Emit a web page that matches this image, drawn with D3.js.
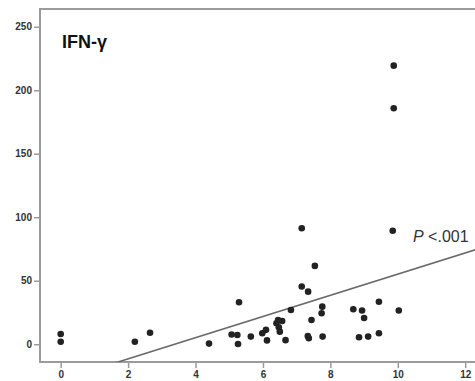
<!DOCTYPE html>
<html>
<head>
<meta charset="utf-8">
<script src="https://cdn.jsdelivr.net/npm/d3@7"></script>
<style>
  body { margin: 0; background: #fff; }
  svg { display: block; }
</style>
</head>
<body>
<div id="chart"></div>
<script>
// score on x, IFN-γ level on y
const xValues = [0, 0, 2.2, 2.65, 4.4, 5.07, 5.24, 5.26, 5.29, 5.64, 5.98, 6.09, 6.12,
  6.4, 6.45, 6.57, 6.47, 6.5, 6.67, 6.83, 7.15, 7.34, 7.54, 7.33, 7.36, 7.44, 7.76, 7.74, 7.77,
  8.68, 8.94, 9.0, 8.85, 9.12, 9.44, 9.44, 10.03, 7.15, 9.85, 9.88, 9.88];
const yValues = [8, 2, 2, 9, 0.5, 7.6, 7.3, 0.2, 33, 6, 8.7, 11.3, 3,
  16.5, 19, 18.3, 13.4, 9.9, 3.2, 27, 45.4, 41.4, 61.7, 6.5, 4.7, 19.1, 29.6, 24.4, 6,
  27.6, 26.5, 20.7, 5.5, 6, 33.5, 8.7, 26.5, 91.3, 89.4, 219.4, 185.8];
const xTicks = [0, 2, 4, 6, 8, 10, 12];
const yTicks = [0, 50, 100, 150, 200, 250];
const fitLine = { intercept: -28.2, slope: 8.34 };
const title = "IFN-γ";

const width = 475, height = 381;
const x = d3.scaleLinear().domain([-0.614, 12.32]).range([40, 476]);
const y = d3.scaleLinear().domain([-14, 264]).range([362, 9]);

const svg = d3.select("#chart")
  .append("svg")
  .attr("width", width)
  .attr("height", height);

svg.append("defs")
  .append("clipPath")
  .attr("id", "plot-clip")
  .append("rect")
  .attr("x", 40)
  .attr("y", 9)
  .attr("width", 436)
  .attr("height", 353);

const frameColor = "#9b9b9b";

// frame (right edge runs off the picture)
svg.append("path")
  .attr("d", `M476,9H40V362H476`)
  .attr("fill", "none")
  .attr("stroke", frameColor)
  .attr("stroke-width", 2);

const yAxis = svg.append("g")
  .attr("transform", "translate(40,0)")
  .call(d3.axisLeft(y).tickValues(yTicks).tickSize(6).tickPadding(2));

const xAxis = svg.append("g")
  .attr("transform", "translate(0,362)")
  .call(d3.axisBottom(x).tickValues(xTicks).tickSize(6).tickPadding(3));

[xAxis, yAxis].forEach(g => {
  g.select(".domain").remove();
  g.selectAll("line").attr("stroke", frameColor).attr("stroke-width", 1.5);
  g.selectAll("text")
    .attr("fill", "#333")
    .style("font-family", "'Liberation Sans', Arial, sans-serif")
    .style("font-weight", "bold")
    .style("font-size", "10px");
});

// regression line
const x0 = x.domain()[0], x1 = x.domain()[1];
svg.append("line")
  .attr("clip-path", "url(#plot-clip)")
  .attr("x1", x(x0))
  .attr("y1", y(fitLine.intercept + fitLine.slope * x0))
  .attr("x2", x(x1))
  .attr("y2", y(fitLine.intercept + fitLine.slope * x1))
  .attr("stroke", "#6a6a6a")
  .attr("stroke-width", 1.6);

// points
svg.append("g")
  .selectAll("circle")
  .data(xValues.map((v, i) => ({ x: v, y: yValues[i] })))
  .enter()
  .append("circle")
  .attr("cx", d => x(d.x))
  .attr("cy", d => y(d.y))
  .attr("r", 3.3)
  .attr("fill", "#222");

svg.append("text")
  .attr("x", 62)
  .attr("y", 48)
  .text(title)
  .attr("fill", "#111")
  .style("font-family", "'Liberation Sans', Arial, sans-serif")
  .style("font-weight", "bold")
  .style("font-size", "18px");

const pLabel = svg.append("text")
  .attr("x", 413)
  .attr("y", 242)
  .attr("fill", "#333")
  .style("font-family", "'Liberation Sans', Arial, sans-serif")
  .style("font-size", "16px");
pLabel.append("tspan").style("font-style", "italic").text("P");
pLabel.append("tspan").text(" <.001");
</script>
</body>
</html>
